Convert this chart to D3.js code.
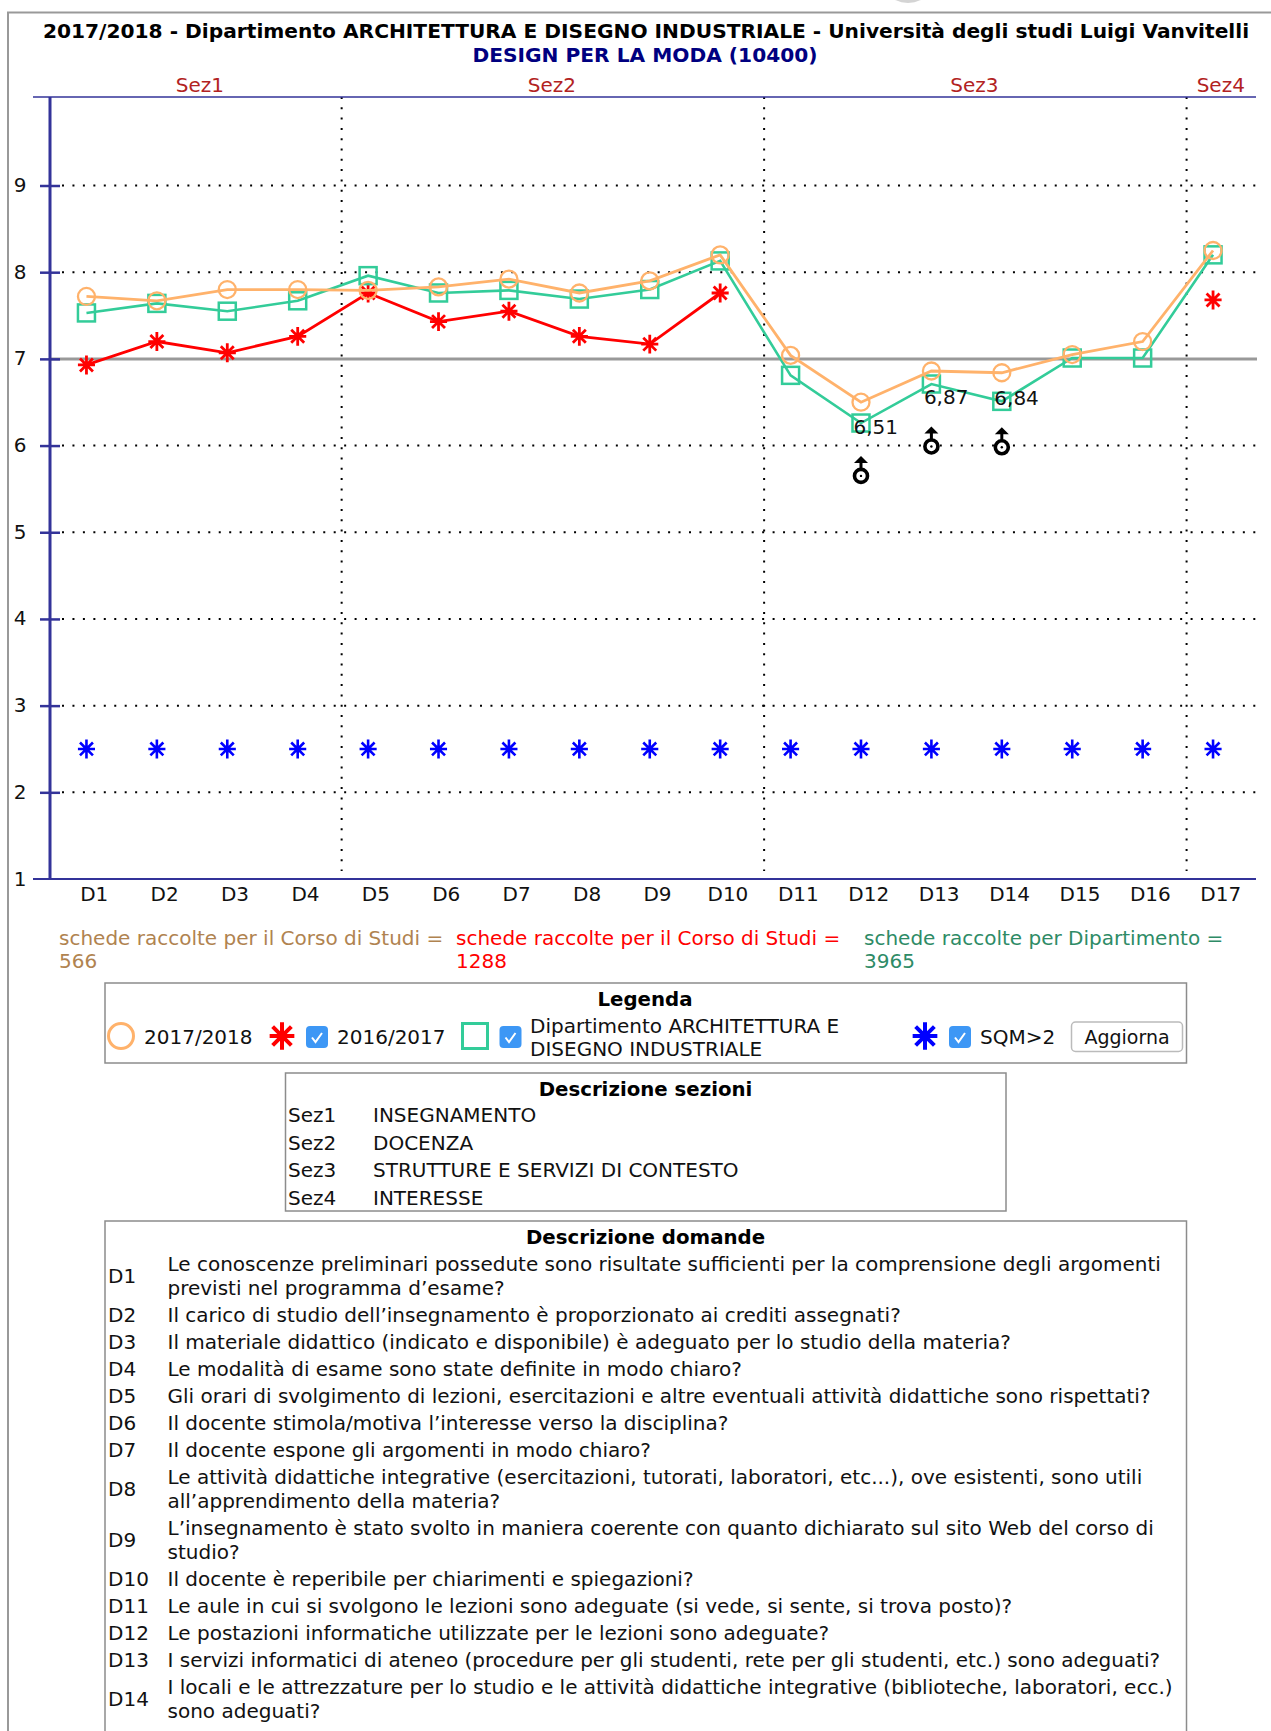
<!DOCTYPE html>
<html>
<head>
<meta charset="utf-8">
<script src="https://cdn.jsdelivr.net/npm/d3@7/dist/d3.min.js"></script>
<style>
  html, body { margin: 0; padding: 0; background: #fff; overflow: hidden; }
  svg { display: block; }
  text { font-family: "DejaVu Sans", Verdana, sans-serif; font-size: 20px; fill: #111; }
  .axis text { font-size: 20px; fill: #111; }
  .bold { font-weight: bold; fill: #000; font-size: 19.75px; }
</style>
</head>
<body>
<div id="chart"></div>
<script>
var wi = 1271;
var he = 1731;

// values
var domande = ["D1","D2","D3","D4","D5","D6","D7","D8","D9","D10","D11","D12","D13","D14","D15","D16","D17"];
var yTicks = [1,2,3,4,5,6,7,8,9];
var anno2017 = [7.72,7.67,7.80,7.80,7.79,7.83,7.92,7.76,7.90,8.20,7.04,6.50,6.86,6.84,7.05,7.20,8.25];
var anno2016 = [6.93,7.20,7.07,7.26,7.76,7.43,7.55,7.26,7.17,7.76,null,null,null,null,null,null,7.68];
var dipartimento = [7.53,7.64,7.55,7.67,7.96,7.76,7.79,7.69,7.80,8.13,6.81,6.26,6.71,6.51,7.01,7.01,8.20];
var sqm = [2.5,2.5,2.5,2.5,2.5,2.5,2.5,2.5,2.5,2.5,2.5,2.5,2.5,2.5,2.5,2.5,2.5];
var sezioni = ["Sez1","Sez2","Sez3","Sez4"];
var sezStart = ["D1","D5","D11","D17"];
var sezNomi = ["INSEGNAMENTO","DOCENZA","STRUTTURE E SERVIZI DI CONTESTO","INTERESSE"];
var critici = ["D12","D13","D14"];
var criticiY = [5.65,5.99,5.98];
var criticiVal = ["6,51","6,87","6,84"];

var descrizioni = [
  ["D1", ["Le conoscenze preliminari possedute sono risultate sufficienti per la comprensione degli argomenti","previsti nel programma d’esame?"]],
  ["D2", ["Il carico di studio dell’insegnamento è proporzionato ai crediti assegnati?"]],
  ["D3", ["Il materiale didattico (indicato e disponibile) è adeguato per lo studio della materia?"]],
  ["D4", ["Le modalità di esame sono state definite in modo chiaro?"]],
  ["D5", ["Gli orari di svolgimento di lezioni, esercitazioni e altre eventuali attività didattiche sono rispettati?"]],
  ["D6", ["Il docente stimola/motiva l’interesse verso la disciplina?"]],
  ["D7", ["Il docente espone gli argomenti in modo chiaro?"]],
  ["D8", ["Le attività didattiche integrative (esercitazioni, tutorati, laboratori, etc...), ove esistenti, sono utili","all’apprendimento della materia?"]],
  ["D9", ["L’insegnamento è stato svolto in maniera coerente con quanto dichiarato sul sito Web del corso di","studio?"]],
  ["D10", ["Il docente è reperibile per chiarimenti e spiegazioni?"]],
  ["D11", ["Le aule in cui si svolgono le lezioni sono adeguate (si vede, si sente, si trova posto)?"]],
  ["D12", ["Le postazioni informatiche utilizzate per le lezioni sono adeguate?"]],
  ["D13", ["I servizi informatici di ateneo (procedure per gli studenti, rete per gli studenti, etc.) sono adeguati?"]],
  ["D14", ["I locali e le attrezzature per lo studio e le attività didattiche integrative (biblioteche, laboratori, ecc.)","sono adeguati?"]]
];

var col = { arancio: "#ffb26b", verde: "#33cc99", rosso: "#ff0000", blu: "#0000ff", asse: "#333399", griglia: "#000", bordo: "#8c8c8c" };

var svg = d3.select("#chart").append("svg").attr("width", wi).attr("height", he);

// page frame
svg.append("ellipse").attr("cx", 908).attr("cy", -6).attr("rx", 17).attr("ry", 9).attr("fill", "#d4d4d4");
svg.append("path").attr("d", "M8,1731V12.5H1271").attr("fill", "none").attr("stroke", "#999").attr("stroke-width", 2);

// titles
svg.append("text").attr("class", "bold").attr("x", 646).attr("y", 37.5).attr("text-anchor", "middle")
  .style("font-size", "20.2px")
  .text("2017/2018 - Dipartimento ARCHITETTURA E DISEGNO INDUSTRIALE - Università degli studi Luigi Vanvitelli");
svg.append("text").attr("class", "bold").attr("x", 645).attr("y", 62).attr("text-anchor", "middle")
  .style("font-size", "20.2px").style("fill", "#000080")
  .text("DESIGN PER LA MODA (10400)");

// scales
var xScale = d3.scaleBand().domain(domande).range([59, 1256]);
var yScale = d3.scaleLinear().domain([1, 9]).range([879, 185.5]);
var yTop = 97;
var xLeft = 33;
var xRight = 1256;
var xAsse = 50;
function xPunto(d) { return xScale(d) + xScale.bandwidth() * 0.39; }

// horizontal grid
svg.append("g").selectAll("line")
  .data(yTicks.filter(function(d) { return d > 1 && d != 7; }))
  .enter().append("line")
  .attr("x1", 62).attr("x2", xRight)
  .attr("y1", function(d) { return yScale(d); })
  .attr("y2", function(d) { return yScale(d); })
  .attr("stroke", col.griglia).attr("stroke-width", 2).attr("stroke-dasharray", "2,8.45");

// the 7 line is solid grey
svg.append("line").attr("x1", xAsse).attr("x2", xRight + 1)
  .attr("y1", yScale(7)).attr("y2", yScale(7))
  .attr("stroke", "#999").attr("stroke-width", 3);

// section separators
svg.append("g").selectAll("line")
  .data(sezStart.slice(1))
  .enter().append("line")
  .attr("x1", function(d) { return xScale(d) + 1; })
  .attr("x2", function(d) { return xScale(d) + 1; })
  .attr("y1", yTop).attr("y2", 871)
  .attr("stroke", col.griglia).attr("stroke-width", 2).attr("stroke-dasharray", "2,8.3");

// axes
var yAxis = d3.axisLeft(yScale).tickValues(yTicks).tickFormat(d3.format("d"));
var gy = svg.append("g").attr("class", "axis").attr("transform", "translate(" + xAsse + ",0)").call(yAxis);
gy.select(".domain").remove();
gy.selectAll(".tick line").attr("x1", -10).attr("x2", 10).attr("stroke", col.asse).attr("stroke-width", 2.5);
gy.selectAll(".tick text").attr("x", -30).attr("text-anchor", "middle").attr("dy", "0.3em");
gy.selectAll(".tick").filter(function(d) { return d == 1; }).select("line").remove();
svg.append("line").attr("x1", xAsse).attr("x2", xAsse).attr("y1", yTop).attr("y2", 879)
  .attr("stroke", col.asse).attr("stroke-width", 3);
svg.append("line").attr("x1", xLeft).attr("x2", xRight).attr("y1", yTop).attr("y2", yTop)
  .attr("stroke", col.asse).attr("stroke-width", 1.5);

var xAxis = d3.axisBottom(xScale).tickSize(0).tickPadding(7.5);
var gx = svg.append("g").attr("class", "axis").attr("transform", "translate(0,879)").call(xAxis);
gx.select(".domain").remove();
svg.append("line").attr("x1", xLeft).attr("x2", xRight).attr("y1", 879).attr("y2", 879)
  .attr("stroke", col.asse).attr("stroke-width", 2);

// section labels over the plot
sezioni.forEach(function(s, i) {
  var x0 = xScale(sezStart[i]);
  var x1 = i < 3 ? xScale(sezStart[i + 1]) : xRight;
  svg.append("text").attr("x", (x0 + x1) / 2).attr("y", 91.5).attr("text-anchor", "middle")
    .style("fill", "#b22222").text(s);
});

// marker helpers
function stella(r) {
  var k = r * 0.72;
  return "M0," + (-r * 1.05) + "V" + (r * 1.05) + "M" + (-k) + "," + (-k) + "L" + k + "," + k +
    "M" + (-k) + "," + k + "L" + k + "," + (-k) + "M" + (-r * 0.95) + ",0H" + (r * 0.95);
}
function disegnaStella(g, x, y, r, colore, sw) {
  var s = g.append("g").attr("transform", "translate(" + x + "," + y + ")");
  s.append("path").attr("d", stella(r)).attr("fill", "none").attr("stroke", colore).attr("stroke-width", sw);
  s.append("circle").attr("r", r * 0.33).attr("fill", colore);
}

var linea = d3.line()
  .defined(function(d) { return d != null; })
  .x(function(d, i) { return xPunto(domande[i]); })
  .y(function(d) { return yScale(d); });

// 2016/2017 red
svg.append("path").attr("d", linea(anno2016)).attr("fill", "none").attr("stroke", col.rosso).attr("stroke-width", 2.8);
var gRosso = svg.append("g");
anno2016.forEach(function(v, i) {
  if (v != null) disegnaStella(gRosso, xPunto(domande[i]), yScale(v), 9, col.rosso, 2.8);
});

// department green
svg.append("path").attr("d", linea(dipartimento)).attr("fill", "none").attr("stroke", col.verde).attr("stroke-width", 2.6);
svg.append("g").selectAll("rect")
  .data(dipartimento).enter().append("rect")
  .attr("x", function(d, i) { return xPunto(domande[i]) - 8.5; })
  .attr("y", function(d) { return yScale(d) - 8.5; })
  .attr("width", 17).attr("height", 17)
  .attr("fill", "none").attr("stroke", col.verde).attr("stroke-width", 2.5);

// 2017/2018 orange
svg.append("path").attr("d", linea(anno2017)).attr("fill", "none").attr("stroke", col.arancio).attr("stroke-width", 2.8);
svg.append("g").selectAll("circle")
  .data(anno2017).enter().append("circle")
  .attr("cx", function(d, i) { return xPunto(domande[i]); })
  .attr("cy", function(d) { return yScale(d); })
  .attr("r", 8.5)
  .attr("fill", "none").attr("stroke", col.arancio).attr("stroke-width", 2.3);

// SQM>2 blue
var gBlu = svg.append("g");
sqm.forEach(function(v, i) {
  disegnaStella(gBlu, xPunto(domande[i]), yScale(v), 9, col.blu, 2.6);
});

// critical questions: value label and black marker
critici.forEach(function(d, i) {
  var x = xPunto(d);
  var ym = yScale(criticiY[i]);
  svg.append("text").attr("x", x - 7.5).attr("y", ym - 42).text(criticiVal[i]);
  var m = svg.append("g").attr("transform", "translate(" + x + "," + ym + ")");
  m.append("circle").attr("r", 6.5).attr("fill", "#fff").attr("stroke", "#000").attr("stroke-width", 3.6);
  m.append("circle").attr("r", 1.2).attr("fill", "#000");
  m.append("line").attr("y1", -7).attr("y2", -14).attr("stroke", "#000").attr("stroke-width", 3);
  m.append("path").attr("d", d3.line()([[-7, -13], [7, -13], [0, -20]])).attr("fill", "#000");
});

// schede raccolte
var schede = [
  [59, "#b08350", "schede raccolte per il Corso di Studi =", "566"],
  [456, "#ff0000", "schede raccolte per il Corso di Studi =", "1288"],
  [864, "#2e8b66", "schede raccolte per Dipartimento =", "3965"]
];
schede.forEach(function(s) {
  svg.append("text").attr("x", s[0]).attr("y", 945).style("fill", s[1]).text(s[2]);
  svg.append("text").attr("x", s[0]).attr("y", 968).style("fill", s[1]).text(s[3]);
});

// boxes
function box(x0, y0, x1, y1) {
  svg.append("rect").attr("x", x0).attr("y", y0).attr("width", x1 - x0).attr("height", y1 - y0)
    .attr("fill", "none").attr("stroke", col.bordo).attr("stroke-width", 1.5);
}
function spunta(x, y) {
  svg.append("rect").attr("x", x).attr("y", y).attr("width", 22).attr("height", 22).attr("rx", 4)
    .attr("fill", "#3d97f5");
  svg.append("path").attr("d", "M" + (x + 6) + "," + (y + 11.5) + "l3.5,4.5l6.5,-9")
    .attr("fill", "none").attr("stroke", "#fff").attr("stroke-width", 2);
}

// legend
box(105, 983, 1186.5, 1063);
svg.append("text").attr("class", "bold").attr("x", 645).attr("y", 1006).attr("text-anchor", "middle").text("Legenda");
svg.append("circle").attr("cx", 121).attr("cy", 1036).attr("r", 12.5)
  .attr("fill", "none").attr("stroke", col.arancio).attr("stroke-width", 3);
svg.append("text").attr("x", 144).attr("y", 1044).text("2017/2018");
disegnaStella(svg, 282, 1036, 13, col.rosso, 4);
spunta(306, 1026);
svg.append("text").attr("x", 337).attr("y", 1044).text("2016/2017");
svg.append("rect").attr("x", 462.5).attr("y", 1023.5).attr("width", 25).attr("height", 25)
  .attr("fill", "none").attr("stroke", col.verde).attr("stroke-width", 3);
spunta(499.5, 1026);
svg.append("text").attr("x", 530).attr("y", 1033).text("Dipartimento ARCHITETTURA E");
svg.append("text").attr("x", 530).attr("y", 1056).text("DISEGNO INDUSTRIALE");
disegnaStella(svg, 925, 1036, 13, col.blu, 4);
spunta(949, 1026);
svg.append("text").attr("x", 980).attr("y", 1044).text("SQM>2");
svg.append("rect").attr("x", 1071.5).attr("y", 1022).attr("width", 111).attr("height", 29.5).attr("rx", 4)
  .attr("fill", "#fff").attr("stroke", "#bbb").attr("stroke-width", 1.5);
svg.append("text").attr("x", 1127).attr("y", 1044).attr("text-anchor", "middle").style("font-size", "19px").text("Aggiorna");

// section descriptions
box(285.5, 1073, 1006, 1211);
svg.append("text").attr("class", "bold").attr("x", 645.5).attr("y", 1096).attr("text-anchor", "middle").text("Descrizione sezioni");
var sezY = [1122, 1149.5, 1176.5, 1204.5];
sezioni.forEach(function(s, i) {
  svg.append("text").attr("x", 288).attr("y", sezY[i]).text(s);
  svg.append("text").attr("x", 373).attr("y", sezY[i]).text(sezNomi[i]);
});

// question descriptions
box(105, 1221, 1186.5, 1740);
svg.append("text").attr("class", "bold").attr("x", 645.5).attr("y", 1243.5).attr("text-anchor", "middle").text("Descrizione domande");
var yRiga = 1271;
descrizioni.forEach(function(d) {
  var righe = d[1];
  svg.append("text").attr("x", 108).attr("y", righe.length > 1 ? yRiga + 12 : yRiga).text(d[0]);
  righe.forEach(function(r, j) {
    svg.append("text").attr("x", 167.5).attr("y", yRiga + j * 24).text(r);
  });
  yRiga += (righe.length - 1) * 24 + 27;
});
</script>
</body>
</html>
